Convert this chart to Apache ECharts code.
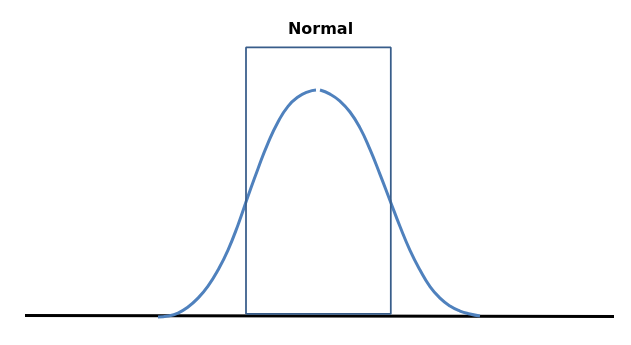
<!DOCTYPE html>
<html>
<head>
<meta charset="utf-8">
<style>
  html, body { margin: 0; padding: 0; background: #ffffff; }
  #chart { width: 631px; height: 345px; }
</style>
<script src="https://cdn.jsdelivr.net/npm/echarts@6.0.0/dist/echarts.min.js"></script>
</head>
<body>
<div id="chart"></div>
<script>
// Title
var chartTitle = 'Normal';

// Bell curve, in standard-deviation units (x) and % of peak height (y)
// Left half (ends just before the peak, leaving the small gap seen in the picture)
var leftX = [-4.0, -3.75, -3.5, -3.25, -3.0, -2.75, -2.5, -2.25, -2.0, -1.75, -1.5, -1.25, -1.0, -0.75, -0.5, -0.25, -0.05];
var leftY = [-0.4, 0.0, 1.3, 4.0, 7.9, 13.2, 20.3, 29.1, 40.2, 52.8, 65.0, 76.3, 85.6, 92.5, 96.6, 98.9, 99.7];
// Right half
var rightX = [0.05, 0.3, 0.55, 0.8, 1.05, 1.3, 1.55, 1.8, 2.05, 2.3, 2.55, 2.8, 3.05, 3.3, 3.55, 3.8, 4.05];
var rightY = [99.7, 97.9, 94.8, 90.0, 83.0, 73.5, 62.5, 51.0, 39.5, 29.0, 20.3, 13.0, 7.9, 4.4, 2.2, 0.9, 0.0];

// Rectangle (the "normal range" box)
var boxX = [-1.8, -1.8, 1.82, 1.82, -1.8];
var boxY = [0.9, 118.5, 118.5, 0.9, 0.9];

// Baseline (horizontal axis line)
var baseX = [-7.325, 7.4];
var baseY = [0.2, -0.2];

function pairs(xs, ys) {
  return xs.map(function (x, i) { return [x, ys[i]]; });
}

var chart = echarts.init(document.getElementById('chart'), null, { renderer: 'canvas' });
chart.setOption({
  animation: false,
  backgroundColor: '#ffffff',
  title: {
    text: chartTitle,
    left: 315.5,
    textAlign: 'center',
    top: 17,
    textStyle: {
      fontFamily: 'DejaVu Sans',
      fontWeight: 'bold',
      fontSize: 16,
      color: '#000000'
    }
  },
  grid: { left: 18, width: 600, top: 44, bottom: 6.3 },
  xAxis: {
    type: 'value', min: -7.5, max: 7.5, show: false,
    splitLine: { show: false }
  },
  yAxis: {
    type: 'value', min: -10, max: 120, show: false,
    splitLine: { show: false }
  },
  series: [
    {
      name: 'baseline', type: 'line', data: pairs(baseX, baseY),
      symbol: 'none', clip: false, z: 1,
      lineStyle: { color: '#000000', width: 3 }
    },
    {
      name: 'curveLeft', type: 'line', data: pairs(leftX, leftY),
      symbol: 'none', smooth: 0.5, clip: false, z: 2,
      lineStyle: { color: '#4F81BD', width: 3 }
    },
    {
      name: 'curveRight', type: 'line', data: pairs(rightX, rightY),
      symbol: 'none', smooth: 0.5, clip: false, z: 2,
      lineStyle: { color: '#4F81BD', width: 3 }
    },
    {
      name: 'box', type: 'line', data: pairs(boxX, boxY),
      symbol: 'none', clip: false, z: 3,
      lineStyle: { color: '#385D8A', width: 1.75 }
    }
  ]
});
</script>
</body>
</html>
